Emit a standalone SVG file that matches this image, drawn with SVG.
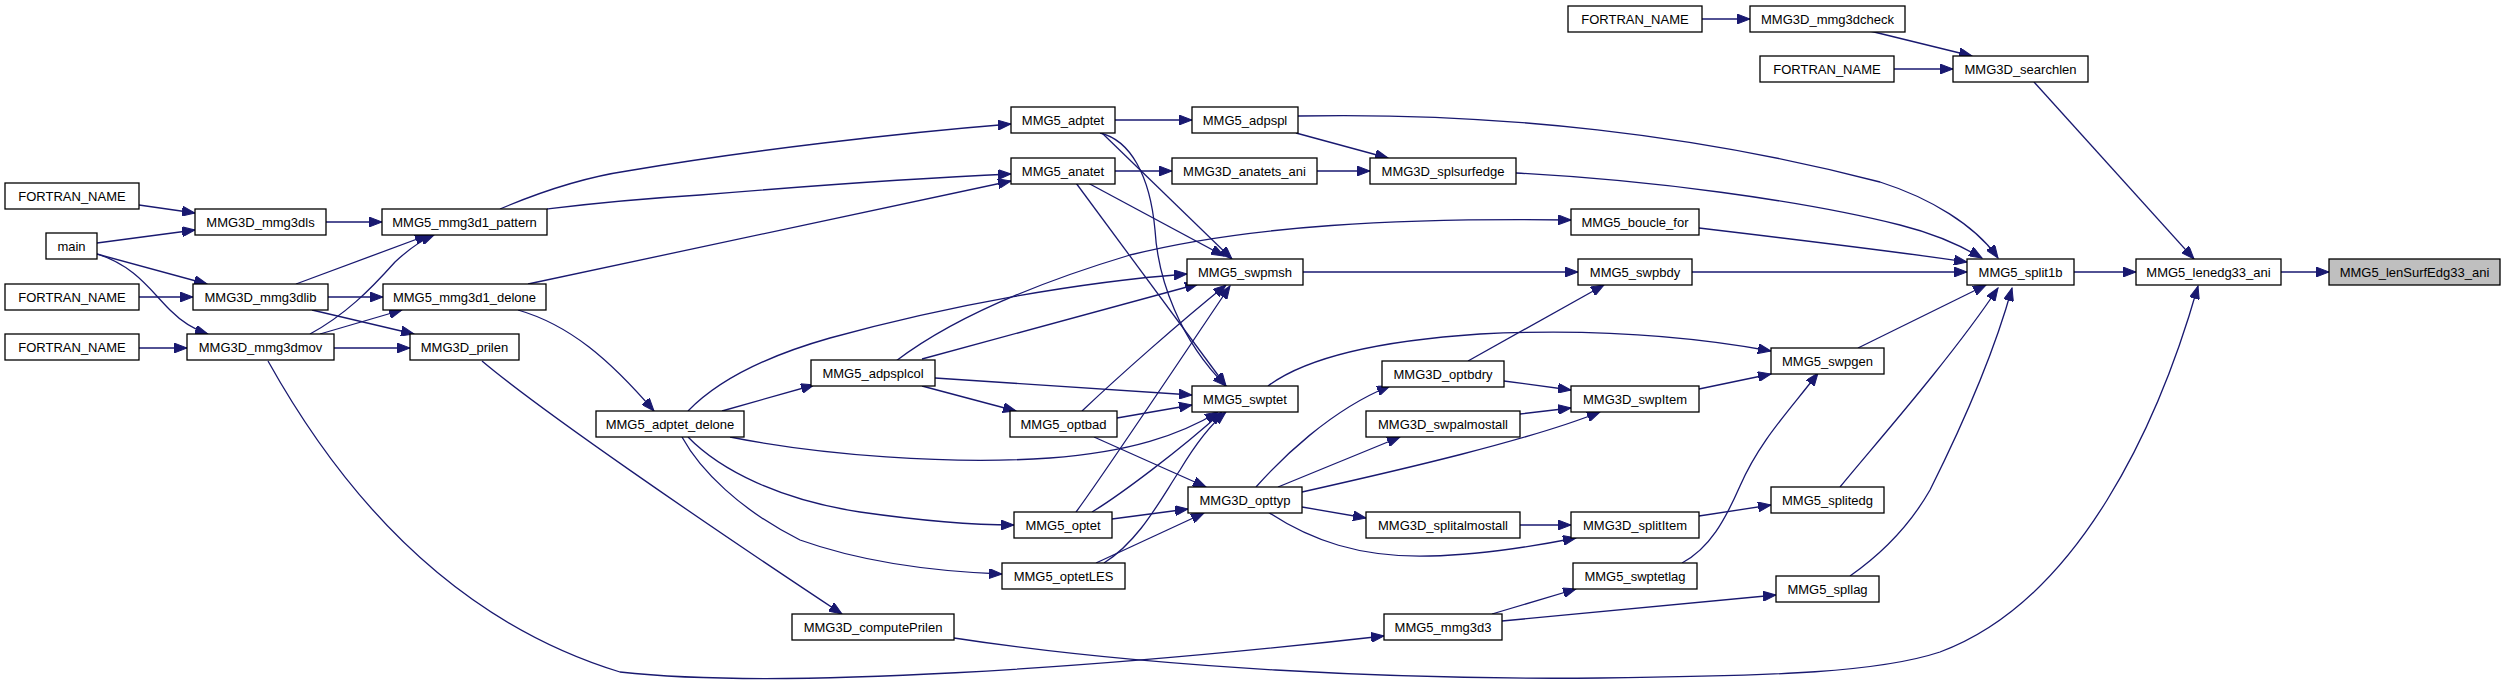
<svg xmlns="http://www.w3.org/2000/svg" width="2504" height="683" viewBox="0 0 2504 683">
<style>
.n rect{fill:#fff;stroke:#000;stroke-width:1.3}
.n text{font-family:"Liberation Sans",Arial,sans-serif;font-size:13px;text-anchor:middle;fill:#000}
#n_lenSurfEdg33_ani rect{fill:#bfbfbf}
#edges path{fill:none;stroke:#191970;stroke-width:1.3;marker-end:url(#a)}
</style>
<defs>
<marker id="a" markerUnits="userSpaceOnUse" markerWidth="14" markerHeight="10" refX="13" refY="5" orient="auto">
<path d="M0,0 L13,5 L0,10 z" fill="#191970" stroke="#191970" stroke-width="1"/>
</marker>
</defs>
<rect width="2504" height="683" fill="#fff"/>
<g id="edges">
<path d="M139,205 L195,213"/>
<path d="M97,243 L195,230"/>
<path d="M97,254 L207,284"/>
<path d="M97,254 C135,266 150,290 170,310 C182,322 195,330 208,334"/>
<path d="M139,297 L193,297"/>
<path d="M139,348 L187,348"/>
<path d="M326,222 L382,222"/>
<path d="M296,284 L428,235"/>
<path d="M310,334 C345,315 370,290 395,262 C410,248 422,240 434,235"/>
<path d="M328,297 L383,297"/>
<path d="M312,310 L414,334"/>
<path d="M320,334 L402,310"/>
<path d="M334,348 L410,348"/>
<path d="M268,361 C340,490 450,620 620,672 C780,690 1100,668 1384,636"/>
<path d="M482,361 C540,410 700,520 842,614"/>
<path d="M954,638 C1150,668 1400,680 1600,678 C1780,676 1880,672 1940,652 C2080,600 2160,420 2198,286"/>
<path d="M500,209 C540,192 580,178 627,171 C750,150 900,133 1011,124"/>
<path d="M547,209 C580,205 620,200 700,195 C820,185 920,178 1011,174"/>
<path d="M528,284 L1011,181"/>
<path d="M518,310 C570,325 610,360 654,411"/>
<path d="M722,411 L814,385"/>
<path d="M688,411 C720,378 770,355 830,338 C950,305 1080,282 1187,274"/>
<path d="M896,361 C950,320 1030,285 1130,255 C1250,225 1400,218 1571,220"/>
<path d="M922,359 L1198,284"/>
<path d="M935,378 L1192,395"/>
<path d="M922,386 L1016,411"/>
<path d="M1082,411 C1120,375 1180,322 1226,285"/>
<path d="M1076,512 C1100,480 1180,360 1230,286"/>
<path d="M1117,418 L1192,405"/>
<path d="M1094,437 L1206,487"/>
<path d="M1092,512 C1120,495 1180,450 1222,412"/>
<path d="M1112,519 L1188,509"/>
<path d="M1096,563 L1204,513"/>
<path d="M1104,563 C1140,540 1160,500 1180,470 C1195,445 1210,425 1226,412"/>
<path d="M688,437 C720,470 780,500 860,512 C930,522 980,525 1014,525"/>
<path d="M682,437 C700,470 740,510 800,540 C870,565 950,572 1002,574"/>
<path d="M730,437 C820,455 950,465 1050,458 C1130,452 1180,435 1218,412"/>
<path d="M1256,487 C1280,460 1330,410 1390,386"/>
<path d="M1278,487 L1400,437"/>
<path d="M1302,492 C1400,470 1530,440 1600,412"/>
<path d="M1302,507 L1366,518"/>
<path d="M1268,512 C1310,540 1360,558 1430,556 C1480,555 1540,545 1576,538"/>
<path d="M1268,386 C1300,362 1360,342 1480,334 C1600,328 1700,338 1771,351"/>
<path d="M1468,361 L1604,285"/>
<path d="M1504,381 L1571,390"/>
<path d="M1520,414 L1571,408"/>
<path d="M1699,389 L1771,374"/>
<path d="M1858,348 L1986,285"/>
<path d="M1520,525 L1571,525"/>
<path d="M1699,516 L1771,505"/>
<path d="M1840,487 C1870,450 1950,360 1998,288"/>
<path d="M1682,563 C1710,548 1725,520 1740,486 C1760,440 1790,410 1818,373"/>
<path d="M1850,576 C1880,555 1910,525 1930,490 C1965,420 1995,350 2012,288"/>
<path d="M1492,614 L1576,589"/>
<path d="M1502,621 L1776,595"/>
<path d="M2074,272 L2136,272"/>
<path d="M2034,82 L2194,259"/>
<path d="M1702,19 L1750,19"/>
<path d="M1870,31 L1972,56"/>
<path d="M1894,69 L1953,69"/>
<path d="M2281,272 L2329,272"/>
<path d="M1298,116 C1500,112 1700,135 1880,182 C1930,198 1975,225 1998,258"/>
<path d="M1516,173 C1650,180 1800,200 1900,225 C1940,235 1965,248 1982,258"/>
<path d="M1699,228 C1800,240 1900,252 1967,262"/>
<path d="M1692,272 L1967,272"/>
<path d="M1296,133 L1388,158"/>
<path d="M1317,171 L1370,171"/>
<path d="M1115,120 L1192,120"/>
<path d="M1115,171 L1172,171"/>
<path d="M1088,183 L1224,256"/>
<path d="M1076,183 L1226,386"/>
<path d="M1102,133 L1232,259"/>
<path d="M1100,133 C1130,140 1150,175 1155,230 C1158,280 1180,340 1226,386"/>
<path d="M1303,272 L1578,272"/>
</g>
<g id="n_fortran_a" class="n"><rect x="5" y="183" width="134" height="26"/><text x="72" y="200.5">FORTRAN_NAME</text></g>
<g id="n_main" class="n"><rect x="46" y="233" width="51" height="26"/><text x="71.5" y="250.5">main</text></g>
<g id="n_fortran_d" class="n"><rect x="5" y="284" width="134" height="26"/><text x="72" y="301.5">FORTRAN_NAME</text></g>
<g id="n_fortran_e" class="n"><rect x="5" y="334" width="134" height="26"/><text x="72" y="351.5">FORTRAN_NAME</text></g>
<g id="n_mmg3dls" class="n"><rect x="195" y="209" width="131" height="26"/><text x="260.5" y="226.5">MMG3D_mmg3dls</text></g>
<g id="n_mmg3dlib" class="n"><rect x="193" y="284" width="135" height="26"/><text x="260.5" y="301.5">MMG3D_mmg3dlib</text></g>
<g id="n_mmg3dmov" class="n"><rect x="187" y="334" width="147" height="26"/><text x="260.5" y="351.5">MMG3D_mmg3dmov</text></g>
<g id="n_pattern" class="n"><rect x="382" y="209" width="165" height="26"/><text x="464.5" y="226.5">MMG5_mmg3d1_pattern</text></g>
<g id="n_delone" class="n"><rect x="383" y="284" width="163" height="26"/><text x="464.5" y="301.5">MMG5_mmg3d1_delone</text></g>
<g id="n_prilen" class="n"><rect x="410" y="334" width="109" height="26"/><text x="464.5" y="351.5">MMG3D_prilen</text></g>
<g id="n_adptet_delone" class="n"><rect x="596" y="411" width="148" height="26"/><text x="670" y="428.5">MMG5_adptet_delone</text></g>
<g id="n_adpsplcol" class="n"><rect x="811" y="360" width="124" height="26"/><text x="873" y="377.5">MMG5_adpsplcol</text></g>
<g id="n_computePrilen" class="n"><rect x="792" y="614" width="162" height="26"/><text x="873" y="631.5">MMG3D_computePrilen</text></g>
<g id="n_adptet" class="n"><rect x="1011" y="107" width="104" height="26"/><text x="1063" y="124.5">MMG5_adptet</text></g>
<g id="n_anatet" class="n"><rect x="1011" y="158" width="104" height="26"/><text x="1063" y="175.5">MMG5_anatet</text></g>
<g id="n_optbad" class="n"><rect x="1010" y="411" width="107" height="26"/><text x="1063.5" y="428.5">MMG5_optbad</text></g>
<g id="n_optet" class="n"><rect x="1014" y="512" width="98" height="26"/><text x="1063" y="529.5">MMG5_optet</text></g>
<g id="n_optetLES" class="n"><rect x="1002" y="563" width="123" height="26"/><text x="1063.5" y="580.5">MMG5_optetLES</text></g>
<g id="n_adpspl" class="n"><rect x="1192" y="107" width="106" height="26"/><text x="1245" y="124.5">MMG5_adpspl</text></g>
<g id="n_anatets_ani" class="n"><rect x="1172" y="158" width="145" height="26"/><text x="1244.5" y="175.5">MMG3D_anatets_ani</text></g>
<g id="n_swpmsh" class="n"><rect x="1187" y="259" width="116" height="26"/><text x="1245" y="276.5">MMG5_swpmsh</text></g>
<g id="n_swptet" class="n"><rect x="1192" y="386" width="106" height="26"/><text x="1245" y="403.5">MMG5_swptet</text></g>
<g id="n_opttyp" class="n"><rect x="1188" y="487" width="114" height="26"/><text x="1245" y="504.5">MMG3D_opttyp</text></g>
<g id="n_splsurfedge" class="n"><rect x="1370" y="158" width="146" height="26"/><text x="1443" y="175.5">MMG3D_splsurfedge</text></g>
<g id="n_optbdry" class="n"><rect x="1382" y="361" width="122" height="26"/><text x="1443" y="378.5">MMG3D_optbdry</text></g>
<g id="n_swpalmostall" class="n"><rect x="1366" y="411" width="154" height="26"/><text x="1443" y="428.5">MMG3D_swpalmostall</text></g>
<g id="n_splitalmostall" class="n"><rect x="1366" y="512" width="154" height="26"/><text x="1443" y="529.5">MMG3D_splitalmostall</text></g>
<g id="n_mmg3d3" class="n"><rect x="1384" y="614" width="118" height="26"/><text x="1443" y="631.5">MMG5_mmg3d3</text></g>
<g id="n_fortran_b" class="n"><rect x="1568" y="6" width="134" height="26"/><text x="1635" y="23.5">FORTRAN_NAME</text></g>
<g id="n_boucle_for" class="n"><rect x="1571" y="209" width="128" height="26"/><text x="1635" y="226.5">MMG5_boucle_for</text></g>
<g id="n_swpbdy" class="n"><rect x="1578" y="259" width="114" height="26"/><text x="1635" y="276.5">MMG5_swpbdy</text></g>
<g id="n_swpItem" class="n"><rect x="1571" y="386" width="128" height="26"/><text x="1635" y="403.5">MMG3D_swpItem</text></g>
<g id="n_splitItem" class="n"><rect x="1571" y="512" width="128" height="26"/><text x="1635" y="529.5">MMG3D_splitItem</text></g>
<g id="n_swptetlag" class="n"><rect x="1573" y="563" width="124" height="26"/><text x="1635" y="580.5">MMG5_swptetlag</text></g>
<g id="n_mmg3dcheck" class="n"><rect x="1750" y="6" width="155" height="26"/><text x="1827.5" y="23.5">MMG3D_mmg3dcheck</text></g>
<g id="n_fortran_c" class="n"><rect x="1760" y="56" width="134" height="26"/><text x="1827" y="73.5">FORTRAN_NAME</text></g>
<g id="n_swpgen" class="n"><rect x="1771" y="348" width="113" height="26"/><text x="1827.5" y="365.5">MMG5_swpgen</text></g>
<g id="n_splitedg" class="n"><rect x="1771" y="487" width="113" height="26"/><text x="1827.5" y="504.5">MMG5_splitedg</text></g>
<g id="n_spllag" class="n"><rect x="1776" y="576" width="103" height="26"/><text x="1827.5" y="593.5">MMG5_spllag</text></g>
<g id="n_searchlen" class="n"><rect x="1953" y="56" width="135" height="26"/><text x="2020.5" y="73.5">MMG3D_searchlen</text></g>
<g id="n_split1b" class="n"><rect x="1967" y="259" width="107" height="26"/><text x="2020.5" y="276.5">MMG5_split1b</text></g>
<g id="n_lenedg33_ani" class="n"><rect x="2136" y="259" width="145" height="26"/><text x="2208.5" y="276.5">MMG5_lenedg33_ani</text></g>
<g id="n_lenSurfEdg33_ani" class="n"><rect x="2329" y="259" width="171" height="26"/><text x="2414.5" y="276.5">MMG5_lenSurfEdg33_ani</text></g>
</svg>
